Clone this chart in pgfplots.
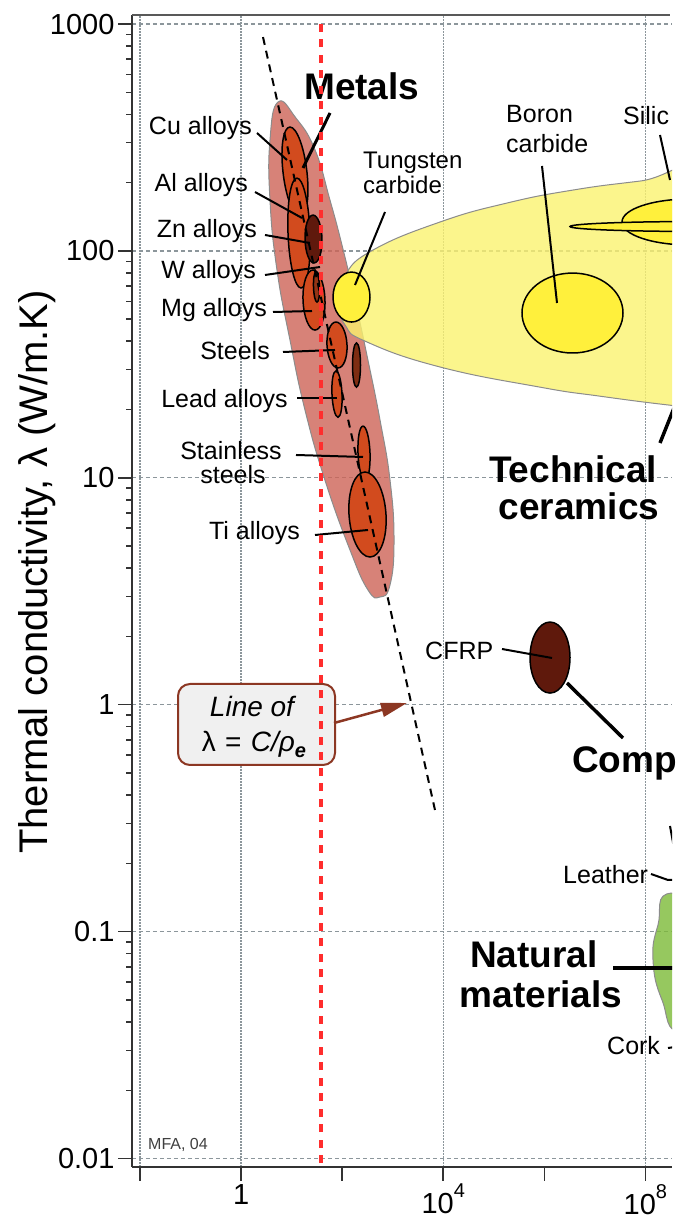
\documentclass[border=0pt]{standalone}
\usepackage{pgfplots}
\pgfplotsset{compat=1.18}
\usepackage{fontspec}
\setmainfont{Liberation Sans}
\usetikzlibrary{arrows.meta}
\newcommand{\fs}[1]{\fontsize{#1}{#1}\selectfont}
\definecolor{metalenv}{RGB}{205,99,86}
\definecolor{metalfill}{RGB}{210,75,30}
\definecolor{darkbrown}{RGB}{95,25,12}
\definecolor{ceramenv}{RGB}{250,242,111}
\definecolor{ceramfill}{RGB}{255,240,60}
\definecolor{natgreen}{RGB}{124,186,55}
\definecolor{boxbrown}{RGB}{140,55,35}
\definecolor{gridgray}{RGB}{140,150,155}
\definecolor{redline}{RGB}{255,45,45}
\pgfplotsset{bubble/.style={draw=black, line width=1.5pt, smooth cycle, tension=1},
  envelope/.style={fill opacity=0.8, draw=black!45, line width=1pt, smooth cycle, tension=0.8}}
\begin{document}
\begin{tikzpicture}
\begin{axis}[
  at={(0pt,0pt)}, anchor=south west,
  scale only axis, width=540pt, height=1151.7pt,
  xmode=log, ymode=log,
  xmin=6.934e-3, xmax=3.369e8, ymin=9.207e-3, ymax=1095.8,
  axis x line*=bottom, axis y line*=left,
  axis line style={line width=2pt, black!80},
  xtick={1e-2,1,1e4,1e8},
  xticklabels={{},{1},{10\raisebox{0.55em}{\fs{20}4}},{10\raisebox{0.55em}{\fs{20}8}}},
  extra x ticks={1e2,1e6}, extra x tick labels={}, extra x tick style={grid=none},
  xminorticks=false,
  ytick={0.01,0.1,1,10,100,1000},
  yticklabels={0.01,0.1,1,10,100,1000},
  tick align=outside,
  major tick length=14pt, minor tick length=6pt,
  tick style={black!80, line width=1.5pt},
  xmajorgrids, ymajorgrids,
  major x grid style={gridgray, line width=1.2pt, dash pattern=on 1.5pt off 1.5pt},
  major y grid style={gridgray, line width=1.2pt, dash pattern=on 4pt off 3pt},
  tick label style={font=\fs{29}},
  clip=true,
]
% Metals envelope
\addplot[fill=metalenv, envelope] coordinates {
(5.37,453) (12.2,385) (29.0,279) (57.4,167.5) (99.3,106) (179.5,60.8) (324,33.0) (561,17.99) (885,9.77) (1062,5.32) (885,3.374) (561,2.985) (324,3.206) (142.9,4.81) (45.7,9.77) (18.4,19.9) (9.29,40.4) (5.13,82.4) (3.73,167.5) (3.73,308)};
% Technical ceramics envelope
\addplot[fill=ceramenv, envelope] coordinates {
(82.7,60.8) (113.8,78.3) (407,100.9) (8629,134.1) (1.828e5,162.6) (3.698e6,185.5) (7.834e7,203.2) (3.0e9,222.9) (1.857e10,67.3) (3.0e9,19.9) (3.076e8,20.9) (1.267e7,22.9) (8.221e5,25.1) (8629,30.8) (310,39.7) (113.8,47.2)};
% Natural materials envelope
\addplot[fill=natgreen, envelope] coordinates {
(3.374e8,0.148) (1.780e8,0.107) (1.418e8,0.0750) (2.136e8,0.0500) (5.313e8,0.0361) (7.462e9,0.0500) (7.462e9,0.1125)};
% metal bubbles
\addplot[fill=metalfill, bubble] coordinates {(9.28,351.6) (20.1,222.9) (14.65,141) (6.745,222.9)};
\addplot[fill=metalfill, bubble] coordinates {(12.77,209.4) (23.1,120) (15.33,68.65) (8.475,120)};
\addplot[fill=metalfill, bubble] coordinates {(26.5,82.4) (45.7,60.8) (29.0,44.8) (16.8,60.8)};
\addplot[fill=darkbrown, bubble] coordinates {(26.5,143.9) (39.9,112.9) (27.7,88.5) (18.4,112.9)};
\addplot[fill=metalfill!70!black, bubble] coordinates {(30.3,80.7) (35.6,69.3) (31.8,59.5) (27.1,69.3)};
\addplot[fill=metalfill, bubble] coordinates {(75.5,48.6) (124.7,38.5) (82.7,30.5) (50.1,38.5)};
\addplot[fill=metalfill!60!black, bubble] coordinates {(192.2,39.3) (230.7,31.4) (192.2,25.1) (160.2,31.4)};
\addplot[fill=metalfill, bubble] coordinates {(75.5,29.6) (99.3,23.4) (82.7,18.5) (62.9,23.4)};
\addplot[fill=metalfill, bubble] coordinates {(258.5,16.9) (355.6,12.87) (283.1,9.77) (205.8,12.87)};
\addplot[fill=metalfill, bubble] coordinates {(283.1,10.61) (737,6.894) (355.6,4.477) (136.6,6.894)};
% ceramics bubbles
\addplot[fill=ceramfill, bubble] coordinates {(7.655e8,169.4) (1.694e10,134.1) (7.655e8,106.2) (3.451e7,134.1)};
\addplot[fill=ceramfill, bubble] coordinates {(1.207e9,134.8) (4.508e11,128.1) (1.207e9,121.8) (3.229e6,128.1)};
\addplot[fill=ceramfill, bubble] coordinates {(3.617e6,79.9) (3.612e7,53.3) (3.617e6,35.5) (3.622e5,53.3)};
\addplot[fill=ceramfill, bubble] coordinates {(153.1,80.7) (355.6,62.6) (153.1,48.6) (65.9,62.6)};
% CFRP
\addplot[fill=darkbrown, bubble] coordinates {(1.297e6,2.315) (3.229e6,1.615) (1.297e6,1.126) (5.216e5,1.615)};
% line of lambda = C/rho_e
\addplot[black, line width=2pt, dash pattern=on 8pt off 6pt] coordinates {(2.713,876) (6872,0.3437)};
\end{axis}

\begin{scope}[shift={(-132pt,1166.7pt)}, x=1pt, y=-1pt]
  \node[rotate=90, anchor=base, inner sep=0, font=\fs{40}] at (48,572) {Thermal conductivity, λ (W/m.K)};
  \draw[black!65, line width=2.5pt] (132,15) -- (670,15);
  \node[anchor=base west, inner sep=0, font=\fs{16}, text=black!75] at (148,1150) {MFA, 04};
  % box and arrow
  \draw[boxbrown, line width=2pt, fill=black!6, rounded corners=12pt] (178,684) rectangle (335,765);
  \node[anchor=base, inner sep=0, font=\fs{28}\itshape] at (252,717) {Line of};
  \node[anchor=base, inner sep=0, font=\fs{28}] at (254,752) {λ\,\,=\,\,\textit{C/ρ}\raisebox{-0.2em}{\fs{20}\bfseries\itshape e}};
  \draw[boxbrown, line width=2.5pt, -{Triangle[length=26pt,width=14pt]}] (334,723) -- (407,703);
  \begin{scope}
    \clip (132,0) rectangle (672,1166.7);
    % leaders
    \draw[black, line width=2pt] (257,133) -- (287,160);
    \draw[black, line width=2pt] (255,192) -- (302,218);
    \draw[black, line width=2pt] (265,235) -- (310,243);
    \draw[black, line width=2pt] (265,275) -- (320,267);
    \draw[black, line width=2pt] (273,312) -- (312,311);
    \draw[black, line width=2pt] (283,352) -- (335,350);
    \draw[black, line width=2pt] (297,398) -- (337,398);
    \draw[black, line width=2pt] (296,455) -- (363,457);
    \draw[black, line width=2pt] (315,535) -- (368,530);
    \draw[black, line width=3pt] (330,113) -- (303,168);
    \draw[black, line width=2pt] (385,212) -- (355,285);
    \draw[black, line width=2pt] (542,166) -- (557,303);
    \draw[black, line width=2pt] (660,135) -- (670,180);
    \draw[black, line width=3.5pt] (660,443) -- (674,408);
    \draw[black, line width=2pt] (502,649) -- (552,658);
    \draw[black, line width=3.5pt] (567,683) -- (623,738);
    \draw[black, line width=2pt] (651,874) -- (668,880) -- (682,880);
    \draw[black, line width=2pt] (670,826) -- (674,848);
    \draw[black, line width=3.5pt] (613,968) -- (682,968);
    \draw[black, line width=2pt] (668,1048) -- (682,1046);
  \end{scope}
  % small labels
  \begin{scope}[every node/.style={inner sep=0, font=\fs{25}}]
    \node[anchor=base east] at (252,135) {Cu alloys};
    \node[anchor=base east] at (248,192) {Al alloys};
    \node[anchor=base east] at (257,238) {Zn alloys};
    \node[anchor=base east] at (256,279) {W alloys};
    \node[anchor=base east] at (267,317) {Mg alloys};
    \node[anchor=base east] at (270,360) {Steels};
    \node[anchor=base east] at (288,408) {Lead alloys};
    \node[anchor=base] at (231,460) {Stainless};
    \node[anchor=base] at (233,484) {steels};
    \node[anchor=base east] at (300,540) {Ti alloys};
    \node[anchor=base west, font=\fs{24}] at (363,169) {Tungsten};
    \node[anchor=base west, font=\fs{24}] at (363,194) {carbide};
    \node[anchor=base west] at (506,123) {Boron};
    \node[anchor=base west] at (506,153) {carbide};
    \node[anchor=base west] at (623,125) {Silic};
    \node[anchor=base west] at (425,660) {CFRP};
    \node[anchor=base west] at (563,884) {Leather};
    \node[anchor=base west] at (607,1055) {Cork};
  \end{scope}
  \begin{scope}[every node/.style={inner sep=0, font=\fs{37}\bfseries}]
    \node[anchor=base west] at (304,100) {Metals};
    \node[anchor=base] at (573,483) {Technical};
    \node[anchor=base] at (579,520) {ceramics};
    \node[anchor=base west] at (572,773) {Comp};
    \node[anchor=base] at (534,968) {Natural};
    \node[anchor=base] at (541,1008) {materials};
  \end{scope}
\end{scope}

\begin{axis}[
  at={(0pt,0pt)}, anchor=south west,
  scale only axis, width=540pt, height=1151.7pt,
  xmode=log, ymode=log,
  xmin=6.934e-3, xmax=3.369e8, ymin=9.207e-3, ymax=1095.8,
  hide axis, clip=false,
]
\addplot[redline, line width=4pt, dash pattern=on 8pt off 7.5pt] coordinates {(37.6,0.00955) (37.6,1040)};
\end{axis}
\pgfresetboundingbox
\path[use as bounding box] (-132pt,-56.3pt) rectangle (548pt,1166.7pt);
\end{tikzpicture}
\end{document}
